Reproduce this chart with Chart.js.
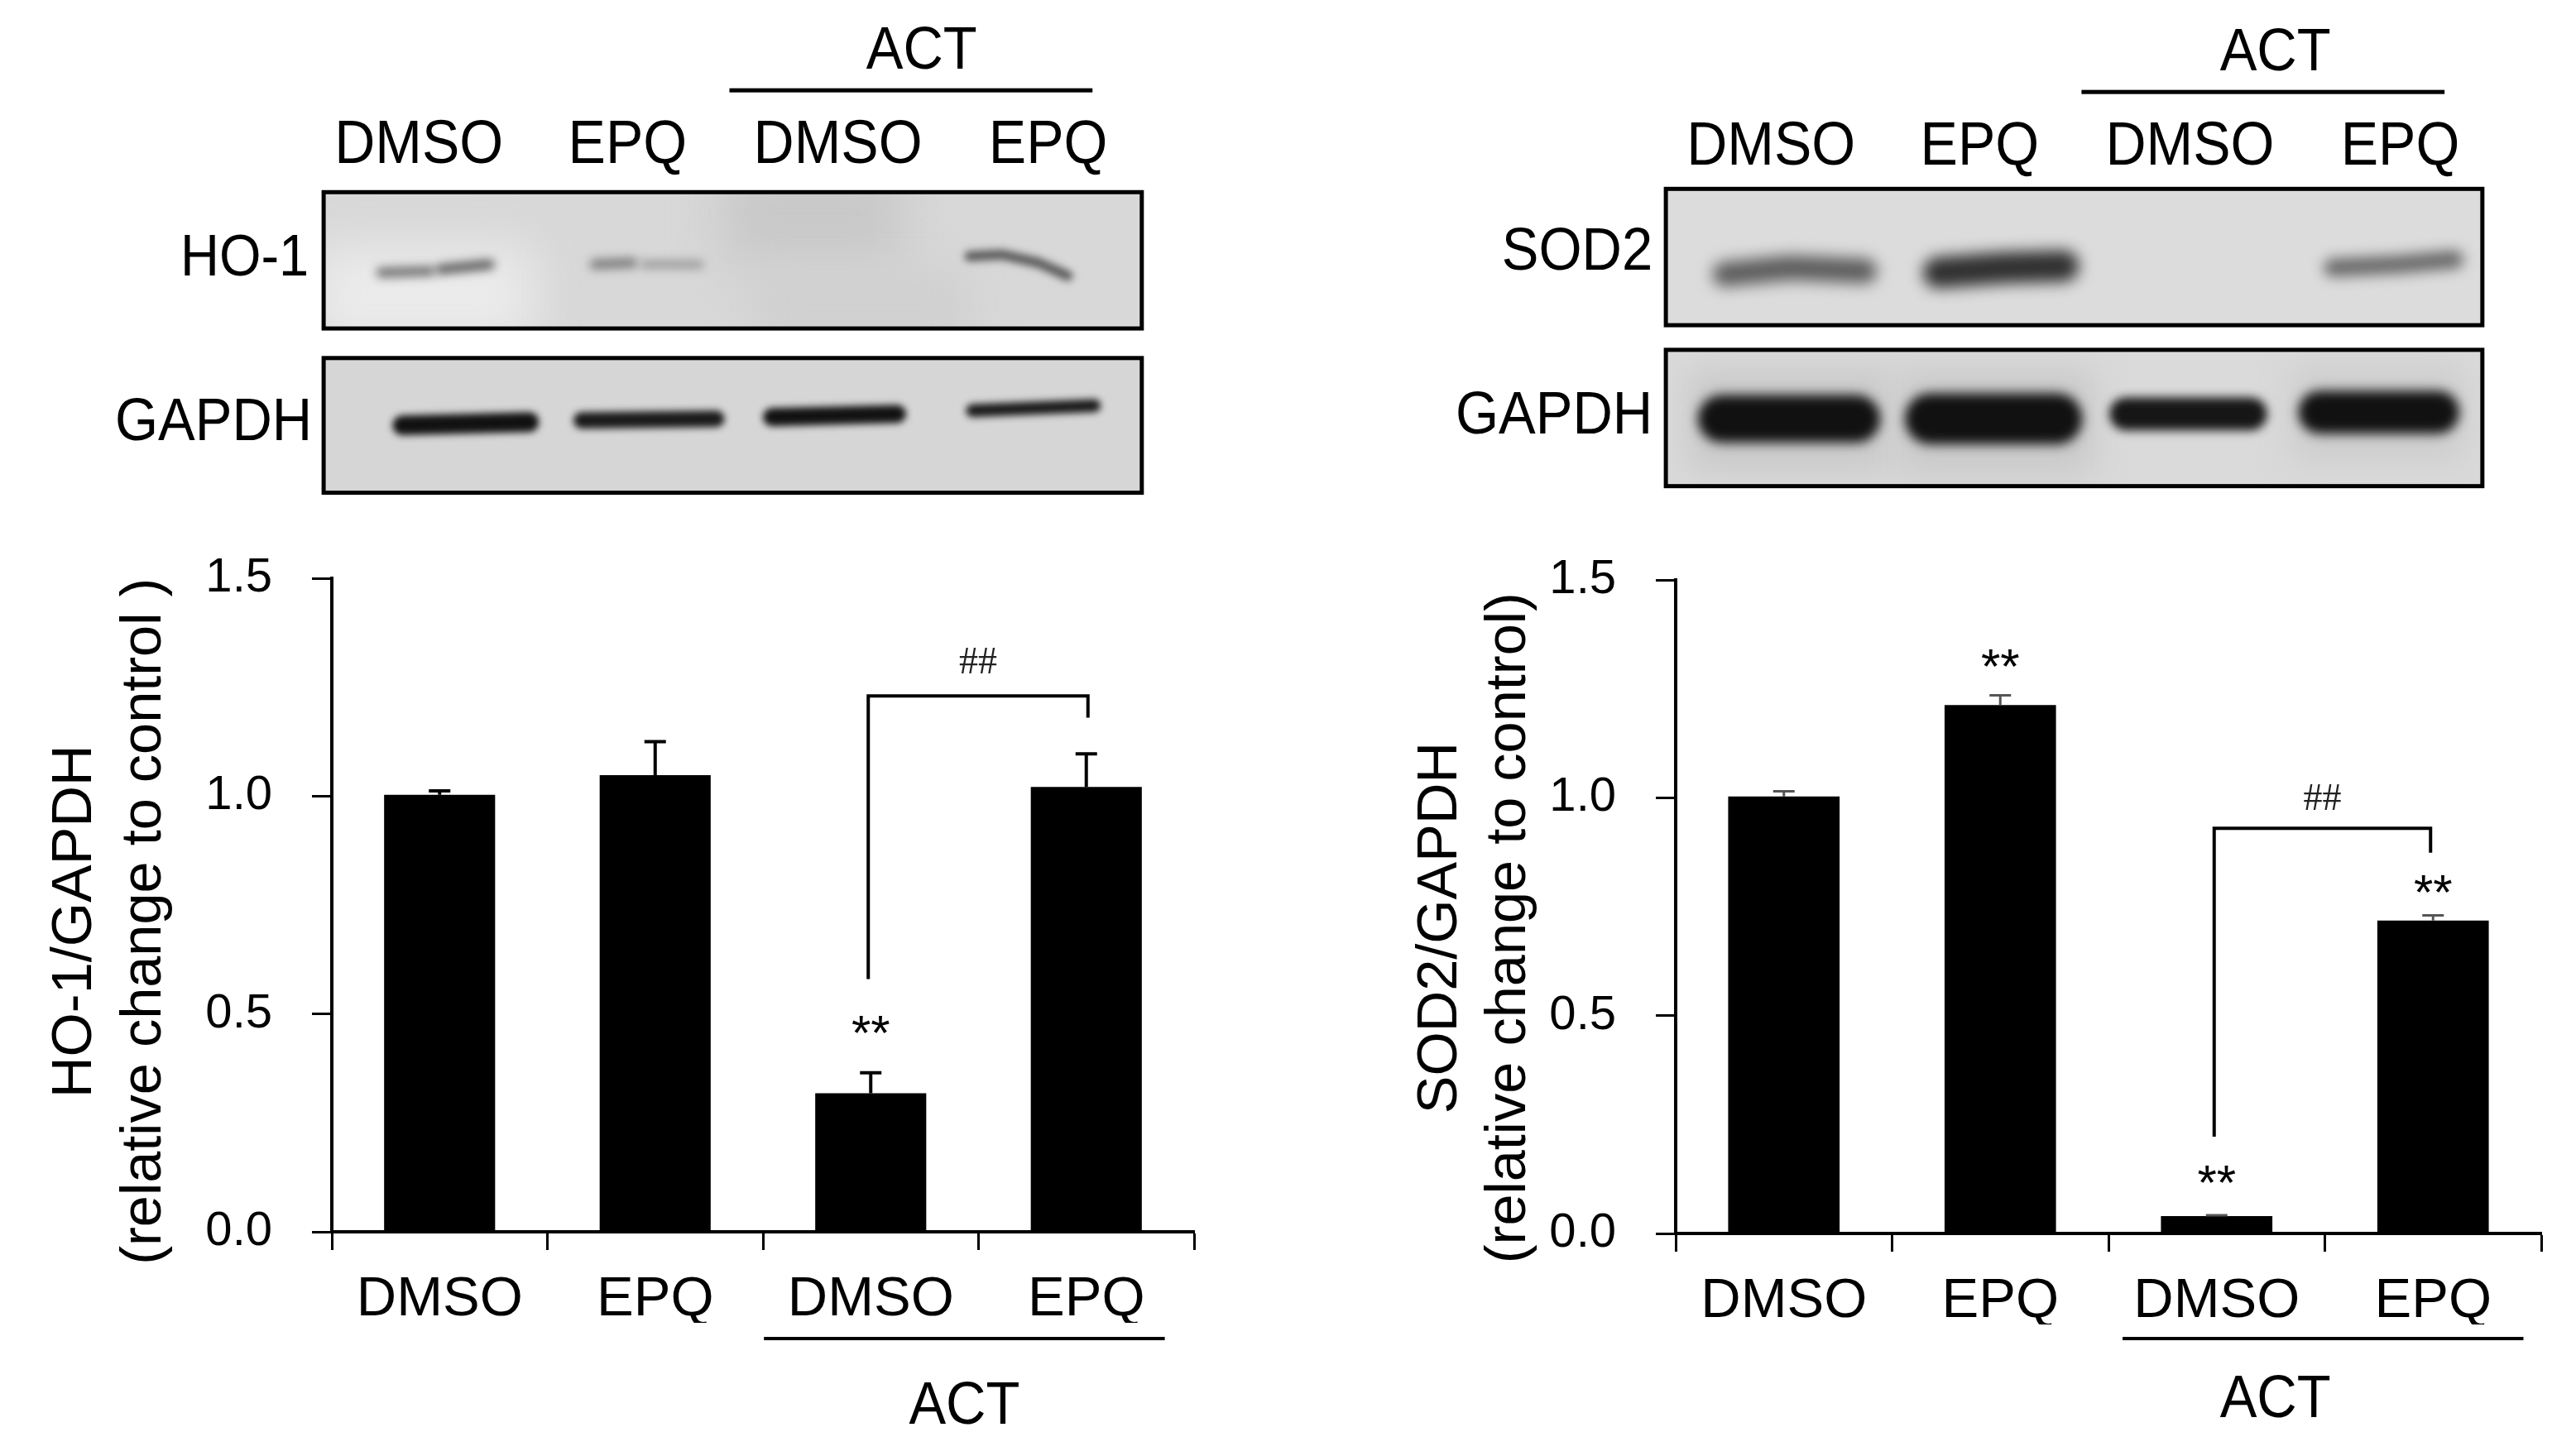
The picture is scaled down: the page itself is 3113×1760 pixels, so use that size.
<!DOCTYPE html>
<html><head><meta charset="utf-8">
<script src="https://cdn.jsdelivr.net/npm/chart.js@4/dist/chart.umd.js"></script>
<style>html,body{margin:0;padding:0;background:#fff}canvas{position:absolute;top:0}</style>
</head><body>
<canvas id="a" style="left:0" width="1556" height="1760"></canvas>
<canvas id="b" style="left:1556px" width="1557" height="1760"></canvas>
<script>
const categories = ['DMSO','EPQ','DMSO','EPQ'];
const yTicks = [0, 0.5, 1.0, 1.5];
const hoValues = [1.003, 1.048, 0.318, 1.021];
const hoErrTop = [1.012, 1.125, 0.365, 1.097];
const sodValues = [1.003, 1.213, 0.04, 0.718];
const sodErrTop = [1.015, 1.235, 0.042, 0.73];
const hoBracket = [0.58, 1.23, 1.18];   // left foot, top, right foot
const sodBracket = [0.222, 0.93, 0.874];
const K = 3113/1568;                    // reference sketch units -> page px
const FONT = '"Liberation Sans"';

function text(c,s,x,y,size,align){
  c.save();c.translate(x*K,y*K);c.scale(1,1.08);
  c.font=size+'px '+FONT;c.fillStyle='#000';c.textAlign=align||'center';c.textBaseline='middle';
  c.fillText(s,0,0);c.restore();
}
function hline(c,x1,x2,y,w){c.fillStyle='#000';c.fillRect(x1*K,y*K-w/2,(x2-x1)*K,w);}
function blot(c,b){
  const x=b.x*K,y=b.y*K,w=b.w*K,h=b.h*K;
  c.save();c.beginPath();c.rect(x,y,w,h);c.clip();
  c.fillStyle=b.bg;c.fillRect(x,y,w,h);
  (b.patches||[]).forEach(p=>{c.filter='blur('+p[5]+'px)';c.fillStyle=p[4];c.fillRect(p[0]*K,p[1]*K,p[2]*K,p[3]*K);});
  (b.bands||[]).forEach(d=>{
    c.filter='blur('+d.blur+'px)';c.strokeStyle=d.color;c.lineWidth=d.t*K;c.lineCap='round';c.lineJoin='round';
    c.beginPath();d.pts.forEach((p,i)=>i?c.lineTo(p[0]*K,p[1]*K):c.moveTo(p[0]*K,p[1]*K));c.stroke();
  });
  c.filter='none';c.restore();
  c.strokeStyle='#000';c.lineWidth=5;c.strokeRect(x,y,w,h);
}
function panelPlugin(cfg){return {id:'panel',afterDraw(ch){
  const c=ch.ctx;c.save();c.translate(-cfg.offset,0);
  // header
  text(c,'ACT',cfg.actTop[0],cfg.actTop[1],67);
  hline(c,cfg.actLine[0],cfg.actLine[1],cfg.actLine[2],5);
  cfg.top.forEach((p,i)=>text(c,categories[i],p,cfg.topY,68));
  cfg.blots.forEach(b=>blot(c,b));
  cfg.side.forEach(s=>text(c,s[0],s[1],s[2],s[3]||67,'right'));
  // y titles
  cfg.titles.forEach(t=>{c.save();c.translate(t[1]*K,t[2]*K);c.rotate(-Math.PI/2);
    c.font='68.5px '+FONT;c.fillStyle='#000';c.textAlign='center';c.textBaseline='middle';c.fillText(t[0],0,0);c.restore();});
  // bottom group
  hline(c,cfg.actBot[0],cfg.actBot[1],cfg.actBot[2],4);
  text(c,'ACT',cfg.actLabel[0],cfg.actLabel[1],67);
  c.restore();
  // error bars, brackets, significance from the library's scales
  const yS=ch.scales.y,meta=ch.getDatasetMeta(0).data;
  c.save();
  cfg.err.forEach((v,i)=>{
    const x=meta[i].x,yB=yS.getPixelForValue(ch.data.datasets[0].data[i]),yT=yS.getPixelForValue(v);
    c.strokeStyle=cfg.errColor;c.lineWidth=cfg.errW;c.beginPath();c.moveTo(x,yB);c.lineTo(x,yT);c.moveTo(x-13,yT);c.lineTo(x+13,yT);c.stroke();
  });
  const xL=meta[2].x+cfg.brDx[0],xR=meta[3].x+cfg.brDx[1],[a,t,b]=cfg.bracket;
  c.strokeStyle='#000';c.lineWidth=4;c.beginPath();
  c.moveTo(xL,yS.getPixelForValue(a));c.lineTo(xL,yS.getPixelForValue(t));c.lineTo(xR,yS.getPixelForValue(t));c.lineTo(xR,yS.getPixelForValue(b));c.stroke();
  c.textAlign='center';c.textBaseline='middle';c.fillStyle='#000';
  cfg.stars.forEach(s=>{c.font='60px '+FONT;c.fillText('**',meta[s[0]].x,yS.getPixelForValue(s[1]));});
  c.font='46px "Liberation Serif"';c.fillStyle='#222';c.fillText('##',(xL+xR)/2+cfg.hashDx,yS.getPixelForValue(cfg.hashY));
  c.restore();
}};}
function makeChart(id,vals,left,top,right,plugin){
  new Chart(document.getElementById(id),{type:'bar',
    data:{labels:categories,datasets:[{data:vals,backgroundColor:'#000',borderWidth:0,barPercentage:0.515,categoryPercentage:1}]},
    options:{responsive:false,animation:false,devicePixelRatio:1,
      layout:{padding:{left:left-170,top:top,right:right,bottom:1760-top-790-110}},
      plugins:{legend:{display:false},tooltip:{enabled:false}},
      scales:{
        x:{type:'category',offset:true,
          grid:{offset:true,drawOnChartArea:false,color:'#000',tickColor:'#000',tickLength:22,tickWidth:3},
          border:{color:'#000',width:4},
          ticks:{color:'#000',font:{family:'"Liberation Sans"',size:67},padding:20,maxRotation:0,autoSkip:false},
          afterFit(s){s.height=110;}},
        y:{min:0,max:1.5,
          afterBuildTicks(s){s.ticks=yTicks.map(v=>({value:v}));},
          grid:{drawOnChartArea:false,color:'#000',tickColor:'#000',tickLength:24,tickWidth:3},
          border:{color:'#000',width:4},
          ticks:{color:'#000',font:{family:'"Liberation Sans"',size:58},padding:48,callback:v=>Number(v).toFixed(1)},
          afterFit(s){s.width=170;}}
      }},
    plugins:[plugin]});
}
makeChart('a',hoValues,401,699,1556-1443,panelPlugin({offset:0,
  actTop:[561,32],actLine:[444,665,55],top:[255,382,510,638],topY:89,
  side:[['HO-1',188,158,65],['GAPDH',190,258]],
  titles:[['HO-1/GAPDH',46,561],['(relative change to control )',88,561]],
  actBot:[465,709,815],actLabel:[587,857],
  err:hoErrTop,errColor:'#000',errW:4,bracket:hoBracket,brDx:[-3,2],
  stars:[[2,0.45]],hashDx:0,hashY:1.305,
  blots:[
   {x:197,y:117,w:498,h:83,bg:'#d8d8d8',
    patches:[[190,150,135,60,'#ebebeb',30],[440,100,110,60,'#c8c8c8',30],[460,165,130,45,'#d0d0d0',24]],
    bands:[{pts:[[232,166],[262,165]],t:6,color:'#707070',blur:6},{pts:[[268,164],[298,161]],t:6,color:'#5c5c5c',blur:6},
      {pts:[[362,161],[385,160]],t:6,color:'#7a7a7a',blur:6},{pts:[[392,161],[426,161]],t:5,color:'#989898',blur:6},
      {pts:[[590,156],[610,155],[632,160],[650,168]],t:6,color:'#585858',blur:5}]},
   {x:197,y:218,w:498,h:82,bg:'#d6d6d6',
    bands:[{pts:[[245,259],[322,257]],t:12,color:'#111',blur:4},{pts:[[354,256],[436,255]],t:10,color:'#1a1a1a',blur:4},
      {pts:[[470,254],[546,252]],t:11,color:'#111',blur:4},{pts:[[592,250],[666,247]],t:8,color:'#1a1a1a',blur:4}]}]}));
makeChart('b',sodValues,2025-1556,701,1557-(3071-1556),panelPlugin({offset:1556,
  actTop:[1385,33],actLine:[1267,1488,56],top:[1078,1205,1333,1461],topY:90,
  side:[['SOD2',1006,154],['GAPDH',1006,254]],
  titles:[['SOD2/GAPDH',877,565],['(relative change to control)',919,565]],
  actBot:[1292,1536,815],actLabel:[1385,853],
  err:sodErrTop,errColor:'#555',errW:3,bracket:sodBracket,brDx:[-3,-3],
  stars:[[1,1.295],[2,0.11],[3,0.775]],hashDx:0,hashY:0.995,
  blots:[
   {x:1014,y:115,w:497,h:83,bg:'#dcdcdc',
    bands:[{pts:[[1050,167],[1090,163],[1135,165]],t:15,color:'#5c5c5c',blur:9},
      {pts:[[1180,166],[1220,163],[1256,162]],t:19,color:'#303030',blur:9},
      {pts:[[1420,163],[1460,161],[1494,158]],t:11,color:'#686868',blur:8}]},
   {x:1014,y:213,w:497,h:83,bg:'#dadada',
    patches:[[1028,226,122,60,'#c8c8c8',20],[1156,226,118,62,'#c8c8c8',20],[1395,224,105,56,'#cccccc',20]],
    bands:[{pts:[[1048,255],[1130,255]],t:29,color:'#111',blur:7},{pts:[[1175,255],[1252,255]],t:31,color:'#111',blur:7},
      {pts:[[1294,252],[1370,252]],t:20,color:'#161616',blur:6},{pts:[[1412,251],[1484,251]],t:26,color:'#111',blur:7}]}]}));
</script>
</body></html>
